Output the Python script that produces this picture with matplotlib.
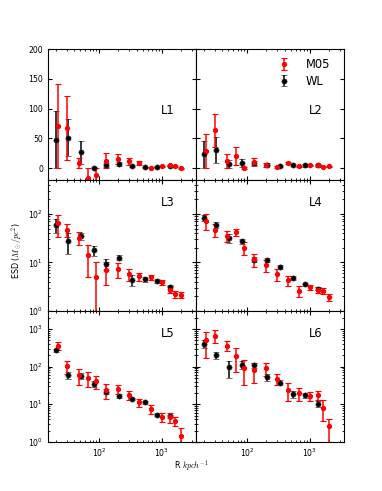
"""
Stacked ESD profiles, six luminosity bins: M05 model vs weak lensing.
"""
import numpy as np
import matplotlib as mpl
mpl.use("Agg")
import matplotlib.pyplot as plt
from matplotlib.ticker import LogLocator, NullFormatter

mpl.rcParams.update({"font.family": "DejaVu Sans", "mathtext.fontset": "cm",
    "xtick.direction": "in", "ytick.direction": "in", "xtick.top": True, "ytick.right": True,
    "axes.linewidth": 0.8, "xtick.major.size": 2.8, "ytick.major.size": 2.8,
    "xtick.minor.size": 1.4, "ytick.minor.size": 1.4, "xtick.labelsize": 5.6, "ytick.labelsize": 5.6})

# ====== Data ======
r_wl = [20, 31.6, 50.5, 81, 130, 208, 333, 532, 852, 1370]
r_m05 = [22, 30.5, 47, 66, 89, 130, 196, 295, 440, 670, 1020, 1360, 1650, 2050]

wl_L1 = [48, 50.8, 26.5, 0.6, 5.6, 7.3, 3.4, 1.1, 2.3, 4.0]
wl_L1_err = [48, 31, 19, 2, 3, 3, 1.5, 1, 1, 1]
m05_L1 = [70.5, 67.7, 9, -16.4, -11.3, 12.4, 15.2, 11.8, 9, 0.5, 2.8, 4.5, 2.8, 0]
m05_L1_err = [71, 54, 8.5, 16.4, 11, 12.5, 8, 6, 3.8, 1, 1, 1, 1, 1]

wl_L2 = [23, 30, 6.7, 9, 8.4, 6, 4, 5.6, 4.5, 4.5]
wl_L2_err = [22, 22, 7, 7, 4, 3, 2, 2, 2, 2]
m05_L2 = [29, 63.5, 12.4, 21, 0.5, 10.7, 5, 2.2, 8.4, 2.8, 4.5, 5, 2.2, 3.4]
m05_L2_err = [28, 28, 11.6, 15, 1.5, 6, 3, 1.5, 1.5, 1, 1, 1, 1, 1]

wl_L3 = [60, 27.7, 35, 17.8, 9.3, 12.6, 4.4, 4.5, 4.2, 3.1]
wl_L3_err = [20, 13, 6, 4.5, 2.4, 1.5, 1.2, 0.6, 0.4, 0.3]
m05_L3 = [64, 47, 32.5, 14, 5.1, 6.9, 7.2, 5.7, 5.2, 4.9, 3.9, 2.75, 2.24, 2.14]
m05_L3_err = [31, 14, 10, 9, 5.1, 3.5, 2.4, 1.6, 1, 0.6, 0.4, 0.45, 0.35, 0.3]

wl_L4 = [84, 60, 32.5, 27.3, 11.5, 11.3, 8.1, 4.8, 3.55, 2.9]
wl_L4_err = [13, 8, 7, 3.5, 1.5, 1.3, 0.8, 0.5, 0.3, 0.25]
m05_L4 = [72, 47.5, 35, 42, 20.2, 11.6, 8.9, 5.7, 4.3, 2.6, 3.1, 2.75, 2.6, 1.9]
m05_L4_err = [26, 14, 9, 7.5, 6, 3.5, 2.4, 1.5, 1.05, 0.7, 0.35, 0.4, 0.35, 0.3]

wl_L5 = [270, 58, 57, 35, 21.7, 16.6, 13.8, 11.2, 5.3, 4.75]
wl_L5_err = [20, 12, 10, 7, 3.5, 2, 1, 0.8, 0.5, 0.4]
m05_L5 = [360, 105, 60, 51, 41, 23.5, 25.5, 17.3, 11.2, 7.5, 4.65, 4.56, 3.64, 1.45]
m05_L5_err = [90, 40, 28, 23, 16, 10, 7, 4.5, 3, 1.9, 1.3, 1.4, 1, 0.9]

wl_L6 = [406, 202, 97, 112, 107, 53, 37.7, 18.8, 17.3, 10.4]
wl_L6_err = [100, 40, 47, 25, 15, 11, 6, 4, 2.5, 1.8]
m05_L6 = [500, 665, 360, 190, 91, 79, 89, 48, 24, 19.5, 16.6, 18, 8.1, 2.57]
m05_L6_err = [330, 245, 108, 120, 58, 42, 32, 16, 12, 7.5, 4.3, 4.8, 4.6, 1.6]

panels = [("L1", wl_L1, wl_L1_err, m05_L1, m05_L1_err), ("L2", wl_L2, wl_L2_err, m05_L2, m05_L2_err),
          ("L3", wl_L3, wl_L3_err, m05_L3, m05_L3_err), ("L4", wl_L4, wl_L4_err, m05_L4, m05_L4_err),
          ("L5", wl_L5, wl_L5_err, m05_L5, m05_L5_err), ("L6", wl_L6, wl_L6_err, m05_L6, m05_L6_err)]

# ====== Figure ======
fig, axes = plt.subplots(3, 2, figsize=(3.82, 4.91), dpi=100, sharex=True)
fig.subplots_adjust(left=0.125, right=0.9, top=0.9, bottom=0.1, wspace=0, hspace=0)

for k, (name, wl, wl_e, m05, m05_e) in enumerate(panels):
    row, col = divmod(k, 2)
    ax = axes[row, col]
    hw = ax.errorbar(r_wl, wl, yerr=wl_e, fmt="o", color="k", ms=3.8, mec="0.25", mew=0.4,
                     elinewidth=1.1, capsize=2.2, capthick=0.8)
    hm = ax.errorbar(r_m05, m05, yerr=m05_e, fmt="o", color="red", ms=2.8, mec="red",
                     elinewidth=1.1, capsize=2.2, capthick=0.8, ecolor="red")
    ax.set_xscale("log")
    ax.set_xlim(15, 3500)
    if row == 0:
        ax.set_ylim(-20, 200)
        ax.set_yticks([0, 50, 100, 150, 200])
        ty = 0.53
    else:
        ax.set_yscale("log")
        ax.set_ylim(1, 500 if row == 1 else 3000)
        ax.yaxis.set_minor_locator(LogLocator(base=10, subs=np.arange(2, 10), numticks=20))
        ax.yaxis.set_minor_formatter(NullFormatter())
        ty = 0.825
    ax.xaxis.set_minor_locator(LogLocator(base=10, subs=np.arange(2, 10), numticks=20))
    ax.xaxis.set_minor_formatter(NullFormatter())
    if col == 1:
        ax.tick_params(labelleft=False)
    ax.text(0.81, ty, name, transform=ax.transAxes, fontsize=8.3, ha="center", va="center")
    if k == 1:
        ax.legend([hm, hw], ["M05", "WL"], loc="upper right", bbox_to_anchor=(0.98, 1.01),
                  frameon=False, numpoints=1, fontsize=8.3, handlelength=1.2, handletextpad=1.3,
                  labelspacing=0.3)

fig.text(0.044, 0.49, r"ESD ($M_\odot/pc^2$)", rotation=90, ha="center", va="center", fontsize=5.8)
fig.text(0.5, 0.051, r"R $kpch^{-1}$", ha="center", va="center", fontsize=5.8)

fig.savefig("out.png", dpi=100)
